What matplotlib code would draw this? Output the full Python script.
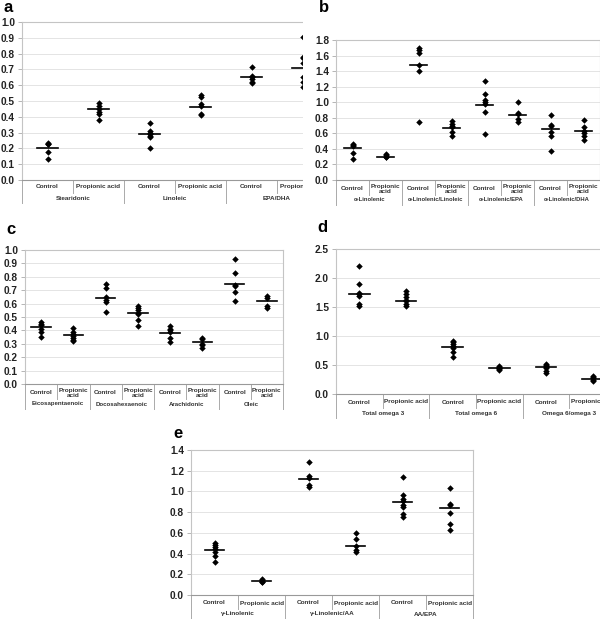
import numpy as np
import matplotlib
matplotlib.use("Agg")
import matplotlib.pyplot as plt
from matplotlib.patches import Rectangle

plt.rcParams['font.family'] = ['Liberation Sans', 'DejaVu Sans']

W, H = 600, 619

# ---- data ----
a_groups = ['Stearidonic', 'Linoleic', 'EPA/DHA']
a_vals = [[0.235, 0.23, 0.225, 0.18, 0.135],
          [0.49, 0.47, 0.45, 0.43, 0.42, 0.38],
          [0.36, 0.31, 0.30, 0.29, 0.28, 0.27, 0.20],
          [0.535, 0.525, 0.48, 0.47, 0.42, 0.41],
          [0.715, 0.66, 0.65, 0.64, 0.62, 0.615],
          [0.905, 0.78, 0.77, 0.74, 0.65, 0.62, 0.59]]
a_means = [0.205, 0.45, 0.29, 0.465, 0.655, 0.71]

b_groups = ['α-Linolenic', 'α-Linolenic/Linoleic', 'α-Linolenic/EPA', 'α-Linolenic/DHA']
b_vals = [[0.46, 0.45, 0.44, 0.35, 0.27],
          [0.33, 0.32, 0.30, 0.29],
          [1.70, 1.67, 1.63, 1.48, 1.40, 0.74],
          [0.76, 0.72, 0.70, 0.68, 0.62, 0.56],
          [1.27, 1.10, 1.03, 1.00, 0.98, 0.87, 0.59],
          [1.00, 0.86, 0.85, 0.78, 0.74],
          [0.84, 0.71, 0.70, 0.62, 0.56, 0.37],
          [0.77, 0.68, 0.63, 0.60, 0.57, 0.52]]
b_means = [0.41, 0.30, 1.48, 0.67, 0.97, 0.84, 0.65, 0.625]

c_groups = ['Eicosapentaenoic', 'Docosahexaenoic', 'Arachidonic', 'Oleic']
c_vals = [[0.46, 0.45, 0.44, 0.41, 0.39, 0.35],
          [0.42, 0.39, 0.37, 0.36, 0.34, 0.33, 0.32],
          [0.75, 0.72, 0.65, 0.63, 0.61, 0.54],
          [0.58, 0.565, 0.55, 0.53, 0.52, 0.48, 0.43],
          [0.43, 0.41, 0.40, 0.39, 0.34, 0.31],
          [0.345, 0.335, 0.30, 0.29, 0.27],
          [0.93, 0.83, 0.74, 0.73, 0.69, 0.62],
          [0.655, 0.645, 0.58, 0.57]]
c_means = [0.428, 0.367, 0.645, 0.532, 0.378, 0.31, 0.745, 0.62]

d_groups = ['Total omega 3', 'Total omega 6', 'Omega 6/omega 3']
d_vals = [[2.21, 1.90, 1.74, 1.72, 1.69, 1.56, 1.52],
          [1.77, 1.72, 1.67, 1.62, 1.60, 1.56, 1.52],
          [0.92, 0.89, 0.86, 0.83, 0.80, 0.72, 0.63],
          [0.48, 0.46, 0.45, 0.44, 0.43, 0.42],
          [0.52, 0.50, 0.49, 0.47, 0.45, 0.40, 0.37],
          [0.31, 0.29, 0.27, 0.25, 0.23]]
d_means = [1.73, 1.60, 0.81, 0.45, 0.47, 0.26]

e_groups = ['γ-Linolenic', 'γ-Linolenic/AA', 'AA/EPA']
e_vals = [[0.50, 0.48, 0.46, 0.44, 0.42, 0.38, 0.32],
          [0.155, 0.145, 0.14, 0.13, 0.125],
          [1.28, 1.15, 1.13, 1.06, 1.04],
          [0.60, 0.54, 0.47, 0.43, 0.42],
          [1.14, 0.97, 0.93, 0.91, 0.87, 0.85, 0.78, 0.75],
          [1.03, 0.88, 0.87, 0.79, 0.69, 0.63]]
e_means = [0.434, 0.14, 1.117, 0.473, 0.90, 0.838]

treatments = ['Control', 'Propionic acid']
treatments_2line = ['Control', 'Propionic\nacid']

fig = plt.figure(figsize=(W / 100, H / 100), dpi=100)


def panel(rect, vals, means, groups, cats, ymax, ystep, halfw, cat_off, grp_off, cat_sep, grp_sep,
          z=0, gsize=4.6):
    l, t, r, b = rect
    h = b - t
    ax = fig.add_axes([l / W, 1 - b / H, (r - l) / W, h / H], zorder=z)
    n = len(vals)
    for i, v in enumerate(vals):
        ax.plot([i + 0.5] * len(v), v, 'D', color='black', ms=3.3, mew=0, zorder=3)
        ax.plot([i + 0.5 - halfw, i + 0.5 + halfw], [means[i], means[i]],
                color='black', lw=1.2, zorder=4)
    ax.set_xlim(0, n)
    ax.set_ylim(0, ymax)
    ticks = np.arange(0, ymax + ystep / 2, ystep)
    ax.set_yticks(ticks)
    ax.set_yticklabels(['%.1f' % v for v in ticks], fontsize=7.3, fontweight='bold', color='#222')
    ax.set_xticks([])
    ax.tick_params(axis='y', length=3, width=0.6, color='#aaa', pad=2)
    ax.grid(axis='y', color='#e4e4e4', lw=0.7)
    ax.set_axisbelow(True)
    for s in ['top', 'right', 'left']:
        ax.spines[s].set_color('#c4c4c4')
        ax.spines[s].set_linewidth(0.8)
    ax.spines['bottom'].set_color('#999')
    ax.spines['bottom'].set_linewidth(0.8)

    tr = ax.get_xaxis_transform()
    for k in range(n + 1):
        depth = grp_sep if k % 2 == 0 else cat_sep
        ax.plot([k, k], [0, -depth / h], color='#aaa', lw=0.7, transform=tr, clip_on=False)
    for i in range(n):
        ax.text(i + 0.5, -cat_off / h, cats[i % 2], transform=tr, ha='center', va='center',
                fontsize=4.6, fontweight='bold', color='#333', linespacing=1.0)
    for g, name in enumerate(groups):
        ax.text(2 * g + 1, -grp_off / h, name, transform=tr, ha='center', va='center',
                fontsize=gsize, fontweight='bold', color='#333')
    return ax


panel((22, 22, 328, 180), a_vals, a_means, a_groups, treatments, 1.0, 0.1, 0.2,
      7, 19, 13, 23, z=0)
# panel a is cropped on the right in the original figure
fig.patches.append(Rectangle((303 / W, 1 - 210 / H), 33 / W, 200 / H, transform=fig.transFigure,
                             facecolor='white', edgecolor='none', zorder=1))
panel((336, 40, 600, 180), b_vals, b_means, b_groups, treatments_2line, 1.8, 0.2, 0.26,
      9, 20, 15, 25, z=2, gsize=4.2)
panel((25, 250, 283, 384), c_vals, c_means, c_groups, treatments_2line, 1.0, 0.1, 0.3,
      9, 20, 15, 25, z=2, gsize=4.4)
panel((336, 249, 616, 394), d_vals, d_means, d_groups, treatments, 2.5, 0.5, 0.22,
      8, 19, 14, 24, z=2)
panel((191, 450, 473, 595), e_vals, e_means, e_groups, treatments, 1.4, 0.2, 0.2,
      8, 19, 14, 24, z=2)

for letter, x, y in [('a', 8, 8), ('b', 324, 8), ('c', 11, 230), ('d', 322, 228), ('e', 178, 433)]:
    fig.text(x / W, 1 - y / H, letter, fontsize=12, fontweight='bold', ha='center', va='center', zorder=5)

fig.savefig('out.png', dpi=100)
